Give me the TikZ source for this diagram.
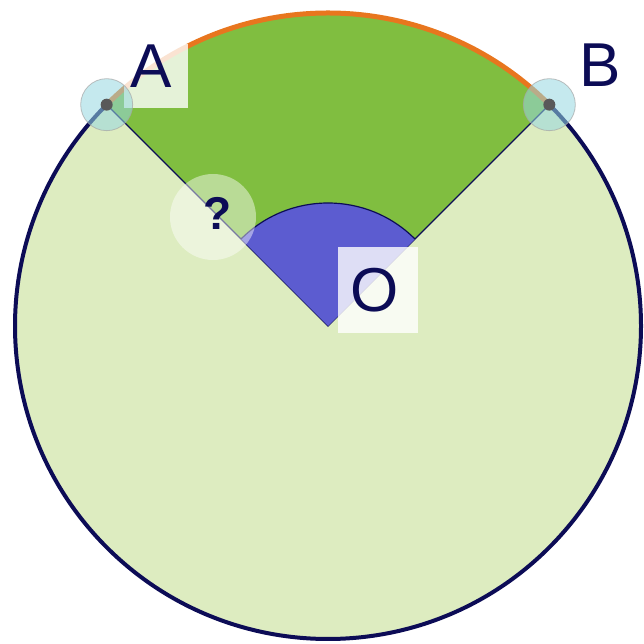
\documentclass[tikz,border=0pt]{standalone}
\usepackage{fontspec}
\setmainfont{Liberation Sans}
\usetikzlibrary{calc}
\definecolor{lightg}{RGB}{221,236,192}
\definecolor{sectg}{RGB}{128,190,64}
\definecolor{angblue}{RGB}{92,92,208}
\definecolor{arcorange}{RGB}{232,118,30}
\definecolor{navy}{RGB}{12,12,86}
\definecolor{marker}{RGB}{150,215,225}
\tikzset{
  lbl/.style={text=navy, font=\fontsize{62}{62}\selectfont, inner sep=0pt},
  lblbox/.style={fill=white, fill opacity=0.8, draw=none, inner sep=0pt},
  ptmark/.style={circle, minimum size=52pt, inner sep=0pt, fill=marker, fill opacity=0.55, draw=gray!70, draw opacity=0.7, line width=0.8pt},
  ptdot/.style={circle, minimum size=12pt, inner sep=0pt, fill=black!65},
}
\begin{document}
\begin{tikzpicture}[x=1pt,y=1pt]
\useasboundingbox (0,0) rectangle (644,644);
\fill[white] (0,0) rectangle (644,644);
\coordinate (O) at (328,318);
\coordinate (A) at ($(O)+(135:313)$);
\coordinate (B) at ($(O)+(45:313)$);
% disk
\fill[lightg] (O) circle (313);
% green sector
\fill[sectg] (O) -- (B) arc[start angle=45, end angle=135, radius=313] -- cycle;
% circle outline
\draw[navy, line width=4pt] (A) arc[start angle=135, end angle=405, radius=313];
\draw[arcorange, line width=5pt] (B) arc[start angle=45, end angle=135, radius=313];
% radii
\draw[navy, line width=1.2pt] (A) -- (O) -- (B);
% angle sector
\fill[angblue] (O) -- ($(O)+(45:123)$) arc[start angle=45, end angle=135, radius=123] -- cycle;
\draw[navy, line width=1.2pt] ($(O)+(45:123)$) arc[start angle=45, end angle=135, radius=123];
% question highlight
\node[circle, minimum size=86pt, inner sep=0pt, fill=white, fill opacity=0.45] (qh) at (213,427) {};
\node[text=navy, font=\fontsize{46}{46}\selectfont\bfseries, inner sep=0pt] (q) at (218,431) {?};
% O label
\node[lblbox, minimum width=80pt, minimum height=86pt] (ob) at (378,354) {};
\node[lbl] (ot) at (375,354) {O};
% A label
\node[lblbox, minimum width=64pt, minimum height=64pt] (ab) at (156,568) {};
\node[lbl] (at) at (151,578) {A};
% B label
\node[lbl] (bt) at (600,579) {B};
% point markers
\node[ptmark] (ma) at (A) {};
\node[ptdot] (da) at (A) {};
\node[ptmark] (mb) at (B) {};
\node[ptdot] (db) at (B) {};
\end{tikzpicture}
\end{document}
